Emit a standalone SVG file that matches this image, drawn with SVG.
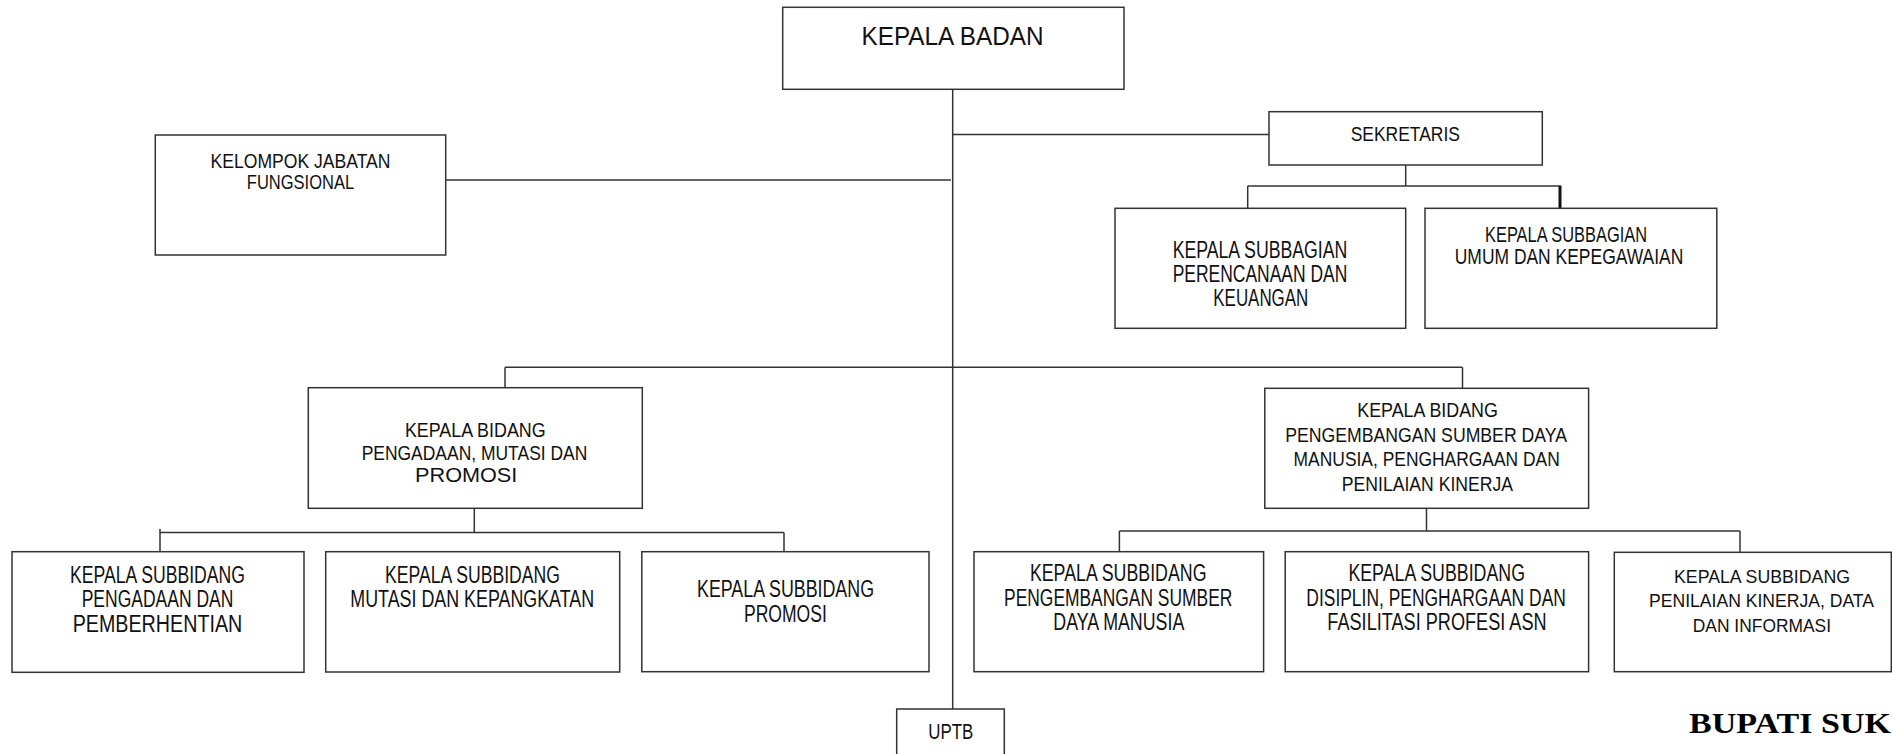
<svg xmlns="http://www.w3.org/2000/svg" width="1892" height="754" viewBox="0 0 1892 754">
<style>
rect.box{fill:#fff;stroke:#333;stroke-width:1.5}
text{font-family:"Liberation Sans",Arial,sans-serif;fill:#111;text-anchor:middle}
.t{font-size:23px}
.s{font-size:21px}
.r{font-size:18.5px}
.c line{stroke:#333;stroke-width:1.5}
</style>
<rect width="1892" height="754" fill="#fff"/>
<g class="c" id="connectors">
<line x1="952.7" y1="89.3" x2="952.7" y2="709"/>
<line x1="952.7" y1="134.5" x2="1269" y2="134.5"/>
<line x1="445.7" y1="180" x2="951" y2="180"/>
<line x1="1405.7" y1="165" x2="1405.7" y2="186"/>
<line x1="1247.7" y1="186" x2="1561" y2="186"/>
<line x1="1247.7" y1="186" x2="1247.7" y2="208.3"/>
<line x1="1560" y1="186" x2="1560" y2="208.3" style="stroke-width:3;stroke:#111"/>
<line x1="505" y1="367.3" x2="1462.5" y2="367.3"/>
<line x1="505" y1="367.3" x2="505" y2="387.7"/>
<line x1="1462.5" y1="367.3" x2="1462.5" y2="388.3"/>
<line x1="474.3" y1="508.3" x2="474.3" y2="532.5"/>
<line x1="160" y1="532.5" x2="784" y2="532.5"/>
<line x1="160" y1="529" x2="160" y2="551.7"/>
<line x1="784" y1="532.5" x2="784" y2="551.7"/>
<line x1="1426.5" y1="508.3" x2="1426.5" y2="531"/>
<line x1="1119.4" y1="531" x2="1740" y2="531"/>
<line x1="1119.4" y1="531" x2="1119.4" y2="551.7"/>
<line x1="1740" y1="531" x2="1740" y2="552"/>
</g>
<g id="kepala-badan">
<rect class="box" x="782.7" y="7.3" width="341.3" height="82"/>
<text x="952.5" y="45" style="font-size:25.5px" textLength="182" lengthAdjust="spacingAndGlyphs">KEPALA BADAN</text>
</g>
<g id="kelompok">
<rect class="box" x="155.3" y="135" width="290.4" height="120"/>
<text class="s" x="300.5" y="167.7" textLength="180" lengthAdjust="spacingAndGlyphs">KELOMPOK JABATAN</text>
<text class="s" x="300.5" y="189.3" textLength="107.3" lengthAdjust="spacingAndGlyphs">FUNGSIONAL</text>
</g>
<g id="sekretaris">
<rect class="box" x="1269" y="111.7" width="273.3" height="53.3"/>
<text x="1405.3" y="140.7" style="font-size:19.5px" textLength="109.3" lengthAdjust="spacingAndGlyphs">SEKRETARIS</text>
</g>
<g id="subbag-perencanaan">
<rect class="box" x="1115" y="208.3" width="290.7" height="120"/>
<text class="t" x="1260" y="258.3" textLength="174.7" lengthAdjust="spacingAndGlyphs">KEPALA SUBBAGIAN</text>
<text class="t" x="1260" y="282.3" textLength="174.7" lengthAdjust="spacingAndGlyphs">PERENCANAAN DAN</text>
<text class="t" x="1260.8" y="306.3" textLength="95" lengthAdjust="spacingAndGlyphs">KEUANGAN</text>
</g>
<g id="subbag-umum">
<rect class="box" x="1425" y="208.3" width="291.8" height="120"/>
<text x="1566" y="241.5" style="font-size:21.5px" textLength="162" lengthAdjust="spacingAndGlyphs">KEPALA SUBBAGIAN</text>
<text x="1569" y="263.5" style="font-size:21.5px" textLength="228.5" lengthAdjust="spacingAndGlyphs">UMUM DAN KEPEGAWAIAN</text>
</g>
<g id="bidang-pengadaan">
<rect class="box" x="308.3" y="387.7" width="334" height="120.6"/>
<text x="475.3" y="437.3" style="font-size:21px" textLength="140.7" lengthAdjust="spacingAndGlyphs">KEPALA BIDANG</text>
<text x="474.5" y="459.5" style="font-size:21px" textLength="225.7" lengthAdjust="spacingAndGlyphs">PENGADAAN, MUTASI DAN</text>
<text x="466.2" y="481.7" style="font-size:21px" textLength="102.3" lengthAdjust="spacingAndGlyphs">PROMOSI</text>
</g>
<g id="bidang-pengembangan">
<rect class="box" x="1264.8" y="388.3" width="323.8" height="120"/>
<text class="s" x="1427.6" y="417.3" textLength="140.6" lengthAdjust="spacingAndGlyphs">KEPALA BIDANG</text>
<text class="s" x="1426.1" y="441.7" textLength="281.8" lengthAdjust="spacingAndGlyphs">PENGEMBANGAN SUMBER DAYA</text>
<text class="s" x="1426.7" y="466.2" textLength="266.2" lengthAdjust="spacingAndGlyphs">MANUSIA, PENGHARGAAN DAN</text>
<text class="s" x="1427.4" y="490.7" textLength="171.2" lengthAdjust="spacingAndGlyphs">PENILAIAN KINERJA</text>
</g>
<g id="subbid-pengadaan">
<rect class="box" x="12" y="551.7" width="292" height="120.6"/>
<text class="t" x="157.5" y="583.3" textLength="175" lengthAdjust="spacingAndGlyphs">KEPALA SUBBIDANG</text>
<text class="t" x="157.5" y="607.3" textLength="151.7" lengthAdjust="spacingAndGlyphs">PENGADAAN DAN</text>
<text class="t" x="157.5" y="631.5" textLength="169.7" lengthAdjust="spacingAndGlyphs">PEMBERHENTIAN</text>
</g>
<g id="subbid-mutasi">
<rect class="box" x="325.7" y="551.7" width="294" height="120.3"/>
<text class="t" x="472.5" y="583.3" textLength="175" lengthAdjust="spacingAndGlyphs">KEPALA SUBBIDANG</text>
<text class="t" x="472.2" y="607.3" textLength="243.7" lengthAdjust="spacingAndGlyphs">MUTASI DAN KEPANGKATAN</text>
</g>
<g id="subbid-promosi">
<rect class="box" x="641.8" y="551.7" width="287.2" height="120"/>
<text class="t" x="785.5" y="597" textLength="177" lengthAdjust="spacingAndGlyphs">KEPALA SUBBIDANG</text>
<text class="t" x="785.4" y="621.5" textLength="82.7" lengthAdjust="spacingAndGlyphs">PROMOSI</text>
</g>
<g id="subbid-pengembangan">
<rect class="box" x="974" y="551.7" width="289.6" height="120"/>
<text class="t" x="1118.2" y="581" textLength="176.6" lengthAdjust="spacingAndGlyphs">KEPALA SUBBIDANG</text>
<text class="t" x="1118.2" y="605.7" textLength="228.3" lengthAdjust="spacingAndGlyphs">PENGEMBANGAN SUMBER</text>
<text class="t" x="1118.8" y="630" textLength="131" lengthAdjust="spacingAndGlyphs">DAYA MANUSIA</text>
</g>
<g id="subbid-disiplin">
<rect class="box" x="1285.2" y="551.7" width="303.4" height="120"/>
<text class="t" x="1436.7" y="581" textLength="176.6" lengthAdjust="spacingAndGlyphs">KEPALA SUBBIDANG</text>
<text class="t" x="1436.1" y="605.7" textLength="259.5" lengthAdjust="spacingAndGlyphs">DISIPLIN, PENGHARGAAN DAN</text>
<text class="t" x="1437" y="630" textLength="219.3" lengthAdjust="spacingAndGlyphs">FASILITASI PROFESI  ASN</text>
</g>
<g id="subbid-penilaian">
<rect class="box" x="1614.3" y="552.3" width="277" height="119.4"/>
<text class="r" x="1762" y="583.3" textLength="176" lengthAdjust="spacingAndGlyphs">KEPALA SUBBIDANG</text>
<text class="r" x="1761.5" y="607.3" textLength="225" lengthAdjust="spacingAndGlyphs">PENILAIAN KINERJA, DATA</text>
<text class="r" x="1761.9" y="631.7" textLength="138.3" lengthAdjust="spacingAndGlyphs">DAN INFORMASI</text>
</g>
<g id="uptb">
<rect class="box" x="896.7" y="709" width="107.6" height="60"/>
<text x="950.8" y="739.3" style="font-size:22px" textLength="45" lengthAdjust="spacingAndGlyphs">UPTB</text>
</g>
<text x="1689" y="733.3" style="font-family:'Liberation Serif','Times New Roman',serif;font-weight:bold;font-size:30px;text-anchor:start;fill:#000" textLength="202" lengthAdjust="spacingAndGlyphs">BUPATI SUK</text>
</svg>
